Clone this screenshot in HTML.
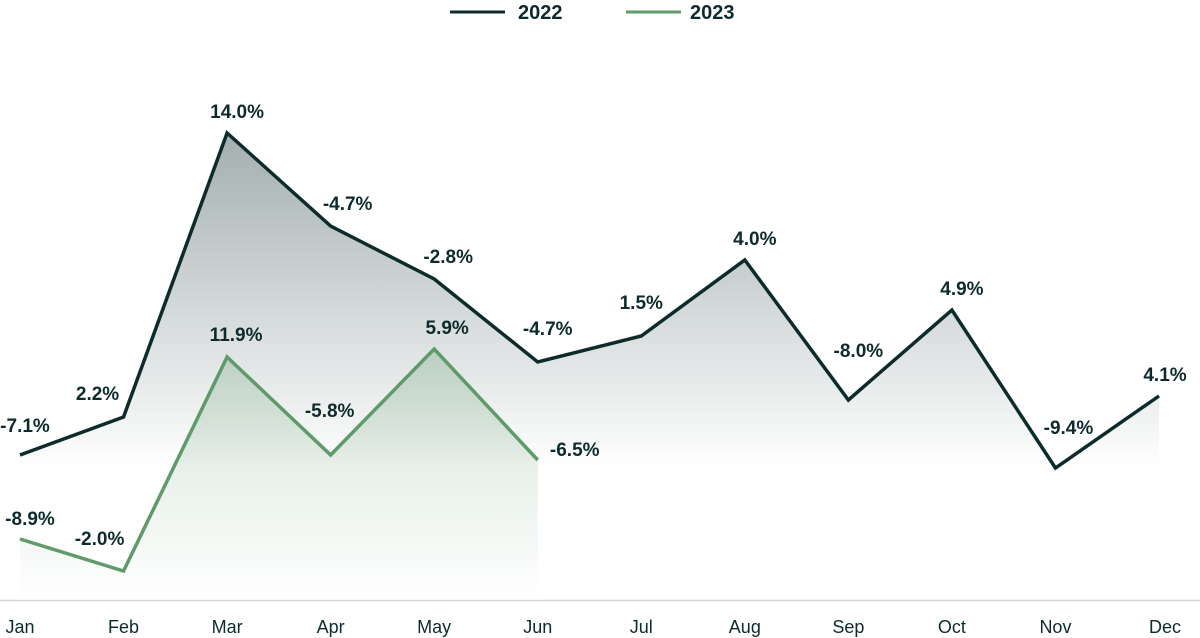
<!DOCTYPE html>
<html><head><meta charset="utf-8"><style>
html,body{margin:0;padding:0;background:#fff;}
svg{display:block;font-family:"Liberation Sans",sans-serif;}
</style></head><body>
<svg id="chart" width="1200" height="638" viewBox="0 0 1200 638">
<defs>
<linearGradient id="gDark" x1="0" y1="133" x2="0" y2="470" gradientUnits="userSpaceOnUse">
<stop offset="0" stop-color="#0e2b2b" stop-opacity="0.38"/><stop offset="1" stop-color="#0e2b2b" stop-opacity="0"/>
</linearGradient>
<linearGradient id="gGreen" x1="0" y1="349" x2="0" y2="600" gradientUnits="userSpaceOnUse">
<stop offset="0" stop-color="#5f9a6a" stop-opacity="0.28"/><stop offset="1" stop-color="#5f9a6a" stop-opacity="0"/>
</linearGradient>
</defs>
<g>
<line x1="450" y1="12" x2="505" y2="12" stroke="#0e2b2b" stroke-width="3"/>
<text x="518" y="19" font-size="20" font-weight="bold" fill="#0e2b2b">2022</text>
<line x1="626" y1="12" x2="681" y2="12" stroke="#5f9a6a" stroke-width="3"/>
<text x="690" y="19" font-size="20" font-weight="bold" fill="#0e2b2b">2023</text>
</g>
<line x1="0" y1="600.5" x2="1200" y2="600.5" stroke="#d5d5d5" stroke-width="1.5"/>
<g id="plot"></g>
</svg>
<script>
const months = ["Jan","Feb","Mar","Apr","May","Jun","Jul","Aug","Sep","Oct","Nov","Dec"];
const values2022 = [29, 36.6, 93.4, 74.8, 64.2, 47.6, 52.8, 68, 40, 58, 26.4, 40.8];
const values2023 = [12.2, 5.8, 48.6, 29, 50.2, 28];
const labels2022 = ["-7.1%","2.2%","14.0%","-4.7%","-2.8%","-4.7%","1.5%","4.0%","-8.0%","4.9%","-9.4%","4.1%"];
const labels2023 = ["-8.9%","-2.0%","11.9%","-5.8%","5.9%","-6.5%"];
const offX2022 = [5,-26,10,17,14,10,0,10,10,10,13,6];
const offY2022 = [-30,-24,-22,-23,-23,-34,-34,-22,-50,-22,-41,-22];
const offX2023 = [10,-24,9,-1,13,37];
const offY2023 = [-21,-33,-23,-45,-22,-11];

const NS="http://www.w3.org/2000/svg";
const plot=document.getElementById('plot');
const xS=i=>20+i*(1139/11);
const yS=v=>600-v*5;
function mk(t,a){const e=document.createElementNS(NS,t);for(const k in a)e.setAttribute(k,a[k]);plot.appendChild(e);return e;}
function series(vals,color,grad,key){
  const pts=vals.map((v,i)=>[xS(i),yS(v)]);
  const line=pts.map(p=>p.join(',')).join(' ');
  const area=mk('polygon',{points:line+' '+pts[pts.length-1][0]+',600 '+pts[0][0]+',600',fill:'url(#'+grad+')'});
  
  
  const pl=mk('polyline',{points:line,fill:'none',stroke:color,'stroke-width':3.5,'stroke-linejoin':'miter'});
  
  
  return pts;
}
const p22=series(values2022,'#0e2b2b','gDark','2022');
const p23=series(values2023,'#5f9a6a','gGreen','2023');
function lbls(pts,labels,ox,oy,key){
  pts.forEach((p,i)=>{
    const t=mk('text',{x:p[0]+ox[i],y:p[1]+oy[i]+7,'text-anchor':'middle','font-size':19,'font-weight':'bold',fill:'#0e2b2b'});
    t.textContent=labels[i];
    
    
  });
}
lbls(p22,labels2022,offX2022,offY2022,'2022');
lbls(p23,labels2023,offX2023,offY2023,'2023');
months.forEach((m,i)=>{
  const t=mk('text',{x:xS(i)+(i===11?6:0),y:633,'text-anchor':'middle','font-size':18,fill:'#0e2b2b'});
  t.textContent=m;
  
  
});
</script>
</body></html>
